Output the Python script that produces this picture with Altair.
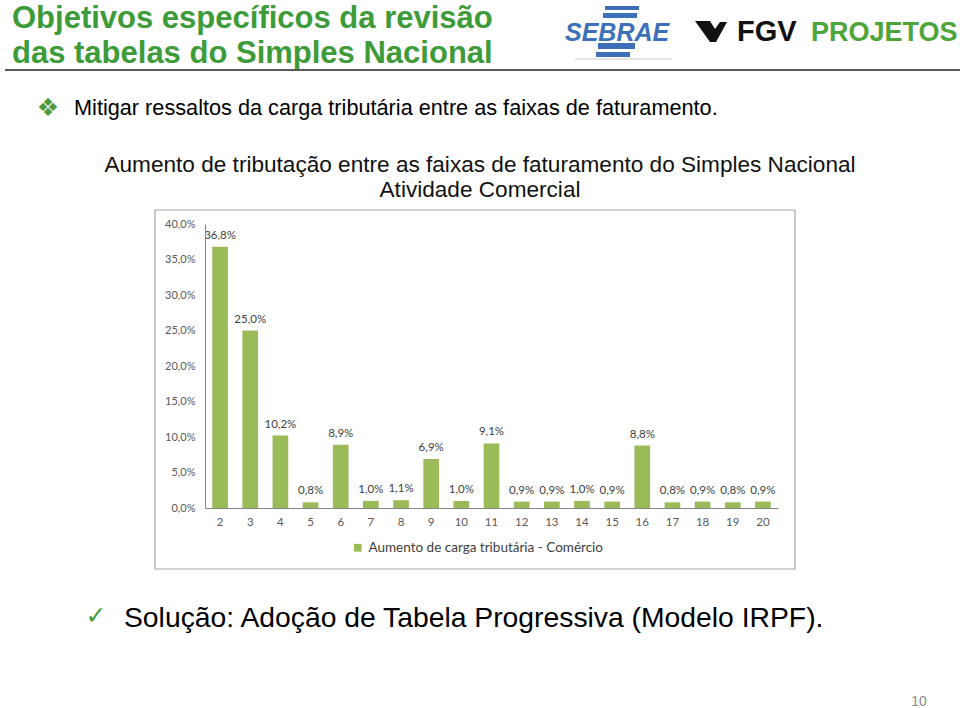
import altair as alt
import pandas as pd

# ---- data ----
faixas = list(range(2, 21))
aumento = [36.8, 25.0, 10.2, 0.8, 8.9, 1.0, 1.1, 6.9, 1.0, 9.1,
           0.9, 0.9, 1.0, 0.9, 8.8, 0.8, 0.9, 0.8, 0.9]
y_ticks = [0, 5, 10, 15, 20, 25, 30, 35, 40]
serie = "Aumento de carga tributária - Comércio"

df = pd.DataFrame({"faixa": faixas, "aumento": aumento, "serie": serie})
one = pd.DataFrame({"k": [0]})

# ---- layout (plot area origin in page pixels) ----
L, T, W, H = 205, 224, 573, 284
GREEN_T = "#3d9b3a"
BLUE = "#3d70b8"


def txt(text, X, Y, size, color="#000000", font="Liberation Sans", weight="normal",
        align="left", baseline="alphabetic", style="normal"):
    return alt.Chart(one).mark_text(
        text=text, font=font, fontSize=size, fontWeight=weight, fontStyle=style,
        color=color, align=align, baseline=baseline
    ).encode(x=alt.value(X - L), y=alt.value(Y - T))


def box(x1, y1, x2, y2, fill, stroke=None, sw=1):
    kw = dict(fill=fill)
    if stroke:
        kw.update(stroke=stroke, strokeWidth=sw)
    return alt.Chart(one).mark_rect(**kw).encode(
        x=alt.value(x1 - L), x2=alt.value(x2 - L),
        y=alt.value(y1 - T), y2=alt.value(y2 - T))


def hrule(x1, x2, y, color, sw):
    return alt.Chart(one).mark_rule(color=color, strokeWidth=sw).encode(
        x=alt.value(x1 - L), x2=alt.value(x2 - L), y=alt.value(y - T))


AX_FONT = "Lato"
x_enc = alt.X("faixa:O",
              scale=alt.Scale(paddingInner=0.48, paddingOuter=0.24),
              axis=alt.Axis(title=None, labelAngle=0, ticks=False, domainColor="#868686",
                            labelFont=AX_FONT, labelFontSize=11.5, labelColor="#595959",
                            labelPadding=8, zindex=1))
y_enc = alt.Y("aumento:Q",
              scale=alt.Scale(domain=[0, 40], nice=False),
              axis=alt.Axis(title=None, values=y_ticks, grid=False, ticks=False,
                            domainColor="#868686",
                            labelExpr="replace(format(datum.value,'.1f'),'.',',') + '%'",
                            labelFont=AX_FONT, labelFontSize=11, labelColor="#595959",
                            labelPadding=10, zindex=1))

frame = box(155, 210, 795, 569, "white", "#a6a6a6", 1.2)

bars = alt.Chart(df).mark_bar().encode(
    x=x_enc, y=y_enc,
    color=alt.Color("serie:N", scale=alt.Scale(range=["#9bbb59"]),
                    legend=alt.Legend(title=None, orient="none", legendX=146, legendY=317,
                                      symbolType="square", symbolSize=60,
                                      symbolStrokeWidth=0, labelLimit=400,
                                      labelFont=AX_FONT, labelFontSize=13.5,
                                      labelColor="#404040", padding=0, labelOffset=4,
                                      zindex=1))
)

bar_labels = alt.Chart(df).transform_calculate(
    lbl="replace(format(datum.aumento,'.1f'),'.',',') + '%'"
).mark_text(baseline="bottom", dy=-6, font=AX_FONT, fontSize=11.5, color="#404040").encode(
    x=x_enc, y=y_enc, text="lbl:N")

# ---- slide decorations ----
title1 = txt("Objetivos específicos da revisão", 12, 28, 31, GREEN_T, weight="bold")
title2 = txt("das tabelas do Simples Nacional", 12, 63, 31, GREEN_T, weight="bold")
header_rule = hrule(5, 960, 70, "#5a5a5a", 2)

# SEBRAE logo
seb = [box(605, 6, 639, 10, BLUE), box(603, 13, 637, 18, BLUE),
       box(598, 43, 635, 49, BLUE), box(596, 52, 630, 57, BLUE),
       hrule(575, 672, 59, "#cccccc", 1),
       txt("SEBRAE", 565, 41, 25, BLUE, weight="bold", style="italic")]

# FGV logo
chevron = alt.Chart(one).mark_point(
    shape="M-1,-0.625L-0.0625,-0.625L0.25,-0.125L0.5625,-0.5625L1,-0.5625L0.3125,0.6875L-0.0625,0.6875Z",
    filled=True, color="#111111", opacity=1, size=1024
).encode(x=alt.value(711 - L), y=alt.value(31 - T))
fgv = txt("FGV", 737, 41, 29, "#111111", weight="bold")
proj = txt("PROJETOS", 811, 41, 27, "#4ea53a", weight="bold")

bullet = txt("❖", 48, 108, 25, "#4e9a3c", font="DejaVu Sans", align="center", baseline="middle")
line1 = txt("Mitigar ressaltos da carga tributária entre as faixas de faturamento.", 74, 115, 21.7)

ct1 = txt("Aumento de tributação entre as faixas de faturamento do Simples Nacional",
          480, 172, 22.6, "#111111", align="center")
ct2 = txt("Atividade Comercial", 480, 197, 22.6, "#111111", align="center")

check = txt("✓", 96, 616, 25, "#3d9b3a", font="DejaVu Sans", align="center", baseline="middle")
sol = txt("Solução: Adoção de Tabela Progressiva (Modelo IRPF).", 124, 627, 28.3)
page = txt("10", 919, 706, 14, "#8c8c8c", align="center")

chart = alt.layer(
    frame, bars, bar_labels,
    title1, title2, header_rule, *seb, chevron, fgv, proj,
    bullet, line1, ct1, ct2, check, sol, page
).properties(
    width=W, height=H,
    padding={"left": L, "top": T, "right": 960 - L - W, "bottom": 708 - T - H},
    autosize=alt.AutoSizeParams(type="none"),
    background="white"
).configure_view(stroke=None)

chart.save("out.html", embed_options={"renderer": "svg", "actions": False})
